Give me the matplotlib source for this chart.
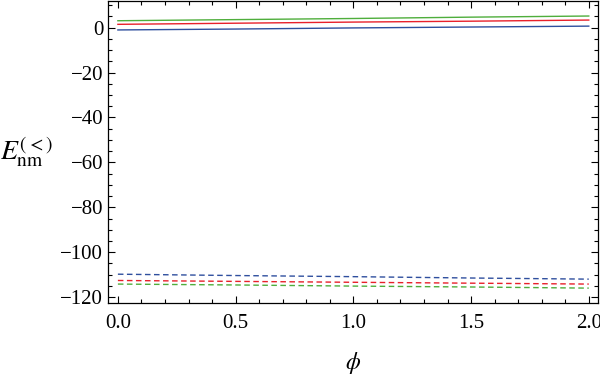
import numpy as np
import matplotlib.pyplot as plt
from matplotlib.ticker import MultipleLocator

plt.rcParams['font.family'] = ['Liberation Serif', 'DejaVu Serif']
plt.rcParams['mathtext.fontset'] = 'stix'

# values
phi = [0.0, 0.5, 1.0, 1.5, 2.0]
solid_green = [3.1, 3.6, 4.1, 4.7, 5.2]
solid_red = [1.5, 2.0, 2.5, 2.9, 3.4]
solid_blue = [-1.0, -0.6, -0.1, 0.3, 0.7]
dash_blue = [-109.8, -110.4, -110.9, -111.5, -112.0]
dash_red = [-112.6, -113.0, -113.4, -113.8, -114.2]
dash_green = [-114.2, -114.6, -115.1, -115.5, -116.0]

fig = plt.figure(figsize=(6, 3.78), dpi=100)
ax = fig.add_axes([0.18, 0.198, 0.817, 0.8])

ax.plot(phi, solid_green, color='#4fae3c', lw=1.0)
ax.plot(phi, solid_red, color='#e8202a', lw=1.0)
ax.plot(phi, solid_blue, color='#2f4f9e', lw=1.0)
ax.plot(phi, dash_blue, color='#2f4f9e', lw=1.0, ls=(0, (4, 2.5)))
ax.plot(phi, dash_red, color='#e8202a', lw=1.0, ls=(0, (4, 2.5)))
ax.plot(phi, dash_green, color='#4fae3c', lw=1.0, ls=(0, (4, 2.5)))

ax.set_xlim(-0.042, 2.04)
ax.set_ylim(-122.7, 12)
ax.xaxis.set_major_locator(MultipleLocator(0.5))
ax.xaxis.set_minor_locator(MultipleLocator(0.1))
ax.yaxis.set_major_locator(MultipleLocator(20))
ax.yaxis.set_minor_locator(MultipleLocator(5))
ax.xaxis.set_major_formatter(plt.FuncFormatter(lambda v, p: f"{v:.1f}"))
ax.yaxis.set_major_formatter(plt.FuncFormatter(lambda v, p: f"{int(v)}".replace('-', '\u2212')))
ax.tick_params(which='both', direction='in', top=True, right=True, labelsize=15, width=0.8)
ax.tick_params(which='major', length=5)
ax.tick_params(which='minor', length=3)
ax.tick_params(axis='x', pad=8)
for s in ax.spines.values():
    s.set_linewidth(0.9)

ax.set_xlabel(r'$\phi$', fontsize=17, labelpad=12)
ax.set_ylabel(r'$E_{\mathrm{nm}}^{(<)}$', fontsize=20, rotation=0, va='center', ha='center')
ax.yaxis.set_label_coords(-0.166, 0.5)

fig.savefig('out.png', dpi=100)
